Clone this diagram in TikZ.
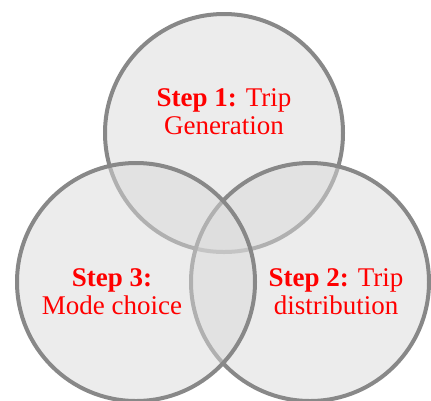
\documentclass[tikz,border=0pt]{standalone}
\usepackage{fontspec}
\setmainfont{Liberation Serif}
\definecolor{ringgray}{HTML}{888888}
\definecolor{fillgray}{HTML}{D9D9D9}
\tikzset{
  ring/.style={draw=ringgray, line width=4pt, fill=fillgray, fill opacity=.5},
  steptext/.style={text=red, align=center, font=\fontsize{27}{28}\selectfont}
}
\begin{document}
\begin{tikzpicture}[x=1pt, y=-1pt]
\useasboundingbox (0,0) rectangle (431,400);
\draw[ring](224,133) circle (119);
\draw[ring](310,282) circle (119);
\draw[ring](136,282) circle (119);
\node (gen) at (224,112)[steptext]{\textbf{Step 1:} Trip\\Generation};
\node (mode) at (112,292)[steptext]{\textbf{Step 3:}\\Mode choice};
\node (dist) at (336,292)[steptext]{\textbf{Step 2:} Trip\\distribution};
\end{tikzpicture}
\end{document}
